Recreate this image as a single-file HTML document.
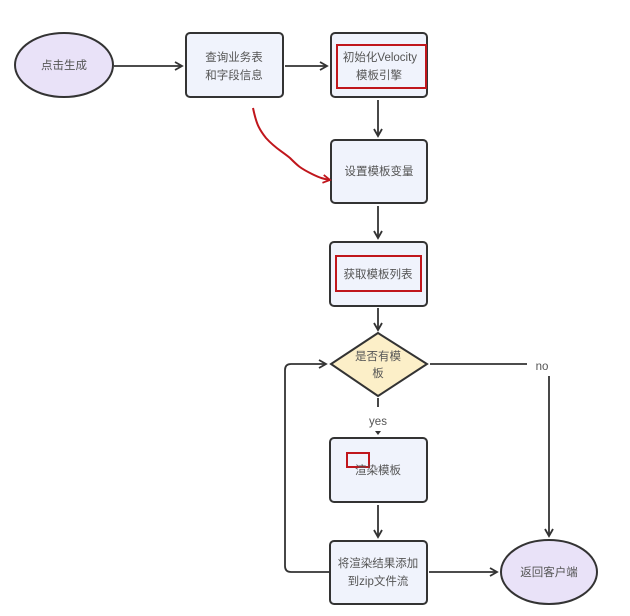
<!DOCTYPE html>
<html><head><meta charset="utf-8"><style>
html,body{margin:0;padding:0;background:#fff;width:630px;height:616px;overflow:hidden}
svg text{font-family:"Liberation Sans","Noto Sans CJK SC",sans-serif;font-size:11.5px;fill:#555;text-anchor:middle}
</style></head><body>
<svg width="630" height="616" viewBox="0 0 630 616">
<defs><marker id="a" markerWidth="10" markerHeight="10" refX="8" refY="5" orient="auto" markerUnits="userSpaceOnUse"><path d="M1,1 L8,5 L1,9" fill="none" stroke="#333" stroke-width="1.8"/></marker>
<marker id="r" markerWidth="10" markerHeight="10" refX="8" refY="5" orient="auto" markerUnits="userSpaceOnUse"><path d="M1,1 L8,5 L1,9" fill="none" stroke="#c0161c" stroke-width="1.8"/></marker></defs>
<g stroke="#333" stroke-width="1.8" fill="none">
<line x1="114" y1="66" x2="182" y2="66" marker-end="url(#a)"/>
<line x1="285" y1="66" x2="327" y2="66" marker-end="url(#a)"/>
<line x1="378" y1="100" x2="378" y2="136" marker-end="url(#a)"/>
<line x1="378" y1="206" x2="378" y2="238" marker-end="url(#a)"/>
<line x1="378" y1="308" x2="378" y2="330" marker-end="url(#a)"/>
<line x1="378" y1="398" x2="378" y2="407"/>
<line x1="378" y1="505" x2="378" y2="537" marker-end="url(#a)"/>
<line x1="429" y1="572" x2="497" y2="572" marker-end="url(#a)"/>
<line x1="430" y1="364" x2="527" y2="364"/>
<line x1="549" y1="376" x2="549" y2="536" marker-end="url(#a)"/>
<path d="M329,572 L291,572 Q285,572 285,566 L285,370 Q285,364 291,364 L326,364" marker-end="url(#a)"/>
</g>
<path d="M375,431 L381,431 L378,435 Z" fill="#333"/>
<ellipse cx="64" cy="65" rx="49" ry="32" fill="#e9e2f8" stroke="#333" stroke-width="2"/>
<ellipse cx="549" cy="572" rx="48" ry="32" fill="#e9e2f8" stroke="#333" stroke-width="2"/>
<g fill="#f0f3fc" stroke="#333" stroke-width="2">
<rect x="186" y="33" width="97" height="64" rx="4"/>
<rect x="331" y="33" width="96" height="64" rx="4"/>
<rect x="331" y="140" width="96" height="63" rx="4"/>
<rect x="330" y="242" width="97" height="64" rx="4"/>
<rect x="330" y="438" width="97" height="64" rx="4"/>
<rect x="330" y="541" width="97" height="63" rx="4"/>
<path d="M378,333 L427,364 L378,396 L331,364 Z" fill="#fcefc8"/>
</g>
<g fill="none" stroke="#c0161c" stroke-width="2">
<rect x="337" y="45" width="89" height="43"/>
<rect x="336" y="256" width="85" height="35"/>
<rect x="347" y="453" width="22" height="14"/>
<path d="M253,108 C256,122 258,128 266,138 C275,148 280,150 290,158 C298,166 300,168 312,174 C320,178 324,179 330,180" marker-end="url(#r)"/>
</g>
<text x="64" y="69">点击生成</text>
<text x="234" y="61">查询业务表</text><text x="234" y="79">和字段信息</text>
<text x="380" y="61">初始化Velocity</text><text x="379" y="79">模板引擎</text>
<text x="379" y="175">设置模板变量</text>
<text x="378" y="278">获取模板列表</text>
<text x="378" y="360">是否有模</text><text x="378" y="377">板</text>
<text x="378" y="425">yes</text>
<text x="542" y="370" style="fill:#fff;stroke:#fff;stroke-width:6">no</text>
<text x="542" y="370">no</text>
<text x="378" y="474">渲染模板</text>
<text x="378" y="567">将渲染结果添加</text><text x="378" y="585">到zip文件流</text>
<text x="549" y="576">返回客户端</text>
</svg>
</body></html>
